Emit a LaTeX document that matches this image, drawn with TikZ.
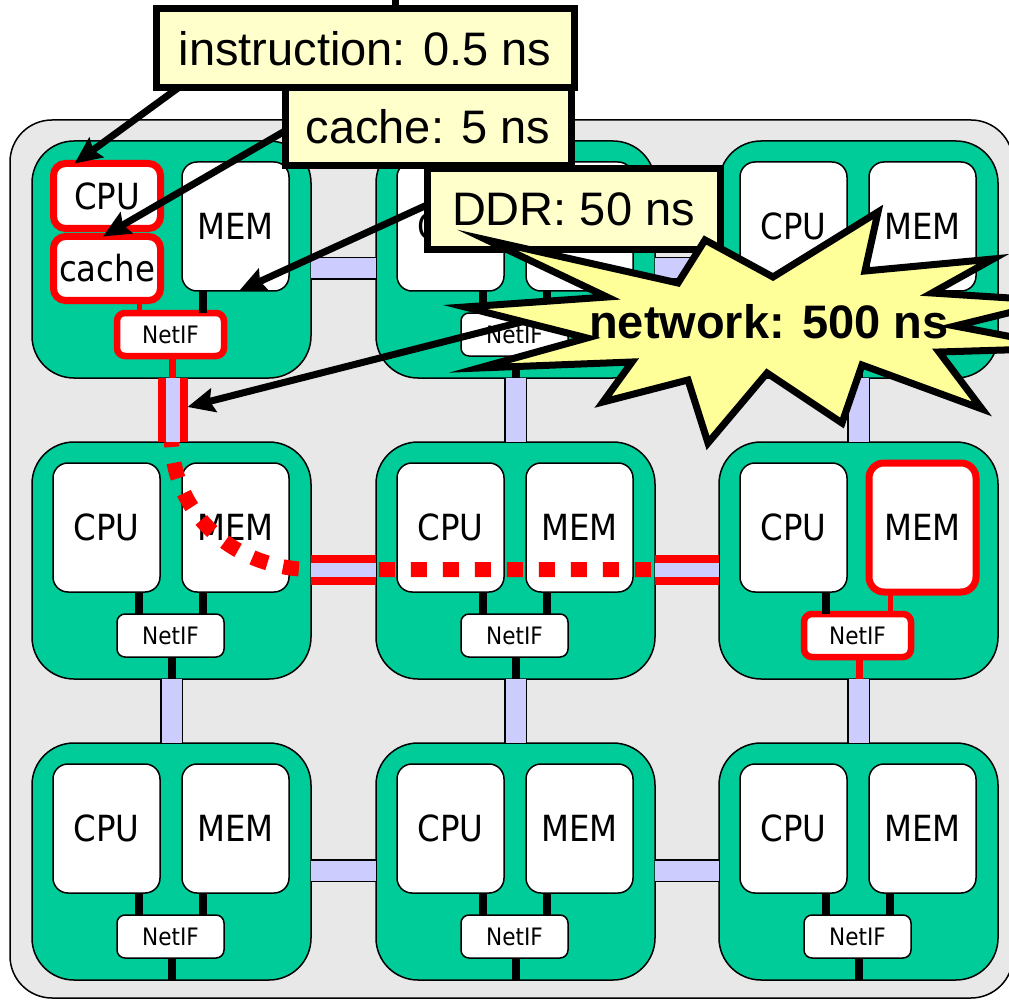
\documentclass[tikz,border=0pt]{standalone}
\usepackage{fontspec}
\newfontfamily\labelfont{Liberation Sans}
\newfontfamily\chipfont{DejaVu Sans Condensed}
\usetikzlibrary{arrows.meta}

\definecolor{modgreen}{HTML}{00CC99}
\definecolor{boardgray}{HTML}{E8E8E8}
\definecolor{linkblue}{HTML}{CCCCFF}
\definecolor{notecream}{HTML}{FFFFCC}
\definecolor{burstyellow}{HTML}{FFFF99}

\tikzset{
  module/.style={draw=black, line width=1.5pt, fill=modgreen, rounded corners=42pt,
    minimum width=279pt, minimum height=237pt, inner sep=0pt, outer sep=0pt},
  chip/.style={draw=black, line width=1.5pt, fill=white, rounded corners=15pt,
    minimum width=107pt, minimum height=129pt, inner sep=0pt, outer sep=0pt,
    font=\chipfont\fontsize{36}{40}\selectfont},
  netif/.style={draw=black, line width=1.5pt, fill=white, rounded corners=8pt,
    minimum width=107pt, minimum height=43pt, inner sep=0pt, outer sep=0pt,
    font=\chipfont\fontsize{24}{28}\selectfont},
  wire/.style={draw=black, line width=8pt},
  hot/.style={draw=red, line width=7pt},
  hotwire/.style={draw=red, line width=5pt},
  link/.style={draw=black, line width=1.5pt, double=linkblue, double distance=20pt},
  hotlink/.style={draw=red, line width=8pt, double=linkblue, double distance=14pt},
  route/.style={draw=red, line width=15pt, dash pattern=on 16pt off 16pt, dash phase=11pt},
  note/.style={draw=black, line width=7pt, fill=notecream, inner sep=0pt, outer sep=0pt,
    font=\labelfont\fontsize{47}{50}\selectfont},
  pointer/.style={draw=black, line width=7pt, -{Stealth[length=27pt,width=24pt,inset=4pt]}},
  burst/.style={draw=black, line width=7pt, fill=burstyellow, line join=miter, miter limit=25},
  % highlighted parts of the path through the mesh
  nif11/.style={draw=red, line width=6.5pt},
  downwire11/.style={draw=red, line width=7pt},
  mem23/.style={draw=red, line width=7pt},
  nif23/.style={draw=red, line width=6.5pt},
  memwire23/.style={draw=red, line width=5pt},
  downwire23/.style={draw=red, line width=7pt},
}

% one processing unit: #1 id, #2/#3 top-left corner, #4 = 1 draws the plain CPU box
\newcommand{\procunit}[4]{%
  \node[module] (m#1) at ({#2+139.5},{#3+118.5}) {};
  \node[netif, nif#1/.try] (nif#1) at ({#2+138.5},{#3+193.5}) {NetIF};
  \node[chip, mem#1/.try] (mem#1) at ({#2+203.5},{#3+85.5}) {MEM};
  \draw[wire, memwire#1/.try] ([xshift=32.5pt]nif#1.north) -- ([xshift=32.5pt]nif#1.north |- mem#1.south);
  \draw[wire, downwire#1/.try] ([xshift=1.5pt]nif#1.south) -- ([xshift=1.5pt]nif#1.south |- m#1.south);
  \ifnum#4=1
    \node[chip] (cpu#1) at ({#2+74.5},{#3+85.5}) {CPU};
    \draw[wire] ([xshift=-31.5pt]nif#1.north) -- ([xshift=-31.5pt]nif#1.north |- cpu#1.south);
  \fi
}

\begin{document}
\begin{tikzpicture}[x=1pt,y=-1pt]
\useasboundingbox (0,0) rectangle (1009,1000);

% board
\draw[fill=boardgray, line width=1.5pt, rounded corners=42pt] (10,120) rectangle (1013,998);

% 3x3 mesh of units
\procunit{11}{32}{141}{0}
\procunit{12}{376}{141}{1}
\procunit{13}{719}{141}{1}
\procunit{21}{32}{442}{1}
\procunit{22}{376}{442}{1}
\procunit{23}{719}{442}{1}
\procunit{31}{32}{743}{1}
\procunit{32}{376}{743}{1}
\procunit{33}{719}{743}{1}

% CPU with its cache in the first unit
\node[chip, hot, minimum height=65pt, rounded corners=12pt] (cpu11) at (107,196) {CPU};
\node[chip, hot, minimum height=64pt, rounded corners=12pt] (cache11) at (107,268.5) {cache};
\draw[hotwire] ([xshift=-31.5pt]nif11.north) -- ([xshift=-31.5pt]nif11.north |- cache11.south);

% route of a remote access
\draw[route] (m21.north) .. controls (175,520) and (240,569) .. ([yshift=-9pt]m21.east)
  -- ([yshift=-9pt]m23.west);

% links
\draw[link] ([yshift=-9pt]m11.east) -- ([yshift=-9pt]m12.west);
\draw[link] ([yshift=-9pt]m12.east) -- ([yshift=-9pt]m13.west);
\draw[hotlink] ([yshift=-9pt]m21.east) -- ([yshift=-9pt]m22.west);
\draw[hotlink] ([yshift=-9pt]m22.east) -- ([yshift=-9pt]m23.west);
\draw[link] ([yshift=-9pt]m31.east) -- ([yshift=-9pt]m32.west);
\draw[link] ([yshift=-9pt]m32.east) -- ([yshift=-9pt]m33.west);
\draw[hotlink] ([xshift=1.5pt]m11.south) -- ([xshift=1.5pt]m21.north);
\draw[link] (m12.south) -- (m22.north);
\draw[link] (m13.south) -- (m23.north);
\draw[link] (m21.south) -- (m31.north);
\draw[link] (m22.south) -- (m32.north);
\draw[link] (m23.south) -- (m33.north);

% latency call-outs
\node[note, minimum width=418pt, minimum height=79pt] (box1) at (365,48.5) {instruction: 0.5 ns};
\node[note, minimum width=286pt, minimum height=78pt] (box2) at (428,127) {cache: 5 ns};
\node[note, minimum width=293pt, minimum height=81pt] (box3) at (573.5,209.5) {DDR: 50 ns};

\coordinate (feed) at (395,-20);
\draw[line width=7pt] (feed) -- (feed |- box1.north);

\draw[pointer] ([xshift=22pt]box1.south west) -- ([xshift=21pt]cpu11.north west);
\draw[pointer] ([yshift=-4pt]box2.west) -- ([xshift=-4pt]cache11.north);
\draw[pointer] ([yshift=4.5pt]box3.west) -- ([xshift=3.5pt]mem11.south);

\coordinate (netsrc) at (545,316);
\draw[pointer] (netsrc) -- ([xshift=16pt,yshift=-29pt]m11.south);

% network burst
\draw[burst] (487,240) -- (678,283) -- (705,240) -- (773,277) -- (878,212) -- (865,271)
  -- (993,259) -- (932,293) -- (1057,301) -- (955,326) -- (1070,348) -- (939,352)
  -- (982,409) -- (862,365) -- (842,423) -- (767,373) -- (708,443) -- (688,380)
  -- (603,402) -- (632,362) -- (479,368) -- (587,338) -- (465,307) -- (607,297) -- cycle;
\node[font=\labelfont\bfseries\fontsize{47}{50}\selectfont] (nettext) at (769,322) {network: 500 ns};

\end{tikzpicture}
\end{document}
